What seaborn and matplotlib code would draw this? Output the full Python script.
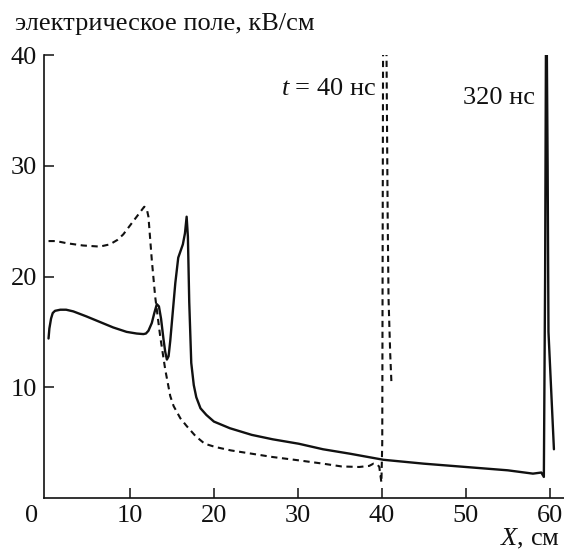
import numpy as np
import pandas as pd
import matplotlib
matplotlib.use('Agg')
import matplotlib.pyplot as plt
import matplotlib.transforms as mtransforms
import seaborn as sns

# t = 320 ns (solid)
x_320 = [0.3, 0.4, 0.6, 0.8, 1.07, 1.7, 2.4, 3.25, 4.8, 6.4, 8.0, 9.6, 10.8, 11.6, 11.9, 12.2, 12.6, 12.9,
         13.2, 13.45, 13.7, 14.0, 14.2, 14.4, 14.6, 14.8, 15.1, 15.4, 15.75, 16.3, 16.55, 16.75, 16.9,
         17.06, 17.3, 17.6, 17.9, 18.4, 19.1, 20.0, 21.9, 24.5, 27.0, 30.1, 33.0, 36.2, 40.2, 45.0,
         50.0, 55.0, 58.0, 59.0, 59.3, 59.45, 59.55, 59.65, 59.75, 59.85, 60.5]
y_320 = [14.4, 15.3, 16.2, 16.7, 16.9, 17.0, 17.0, 16.85, 16.4, 15.9, 15.4, 15.0, 14.85, 14.8, 14.85, 15.1,
         15.8, 16.7, 17.5, 17.3, 16.2, 14.3, 13.2, 12.5, 12.8, 14.2, 16.8, 19.4, 21.7, 22.9, 23.9, 25.4,
         23.6, 17.7, 12.2, 10.2, 9.1, 8.1, 7.5, 6.9, 6.3, 5.7, 5.3, 4.9, 4.4, 4.0, 3.45, 3.1,
         2.8, 2.5, 2.2, 2.3, 1.9, 20.0, 41.0, 41.0, 30.0, 15.0, 4.4]

# t = 40 ns (dashed)
x_40 = [0.3, 1.2, 2.5, 4.4, 6.4, 7.6, 8.5, 9.2, 10.4, 11.2, 11.7, 12.0, 12.2, 12.6, 13.0, 13.6, 14.2, 14.8,
        15.2, 16.0, 16.75, 17.8, 18.9, 20.2, 22.0, 24.5, 27.0, 30.1, 33.0, 35.2, 37.3, 38.5, 39.0,
        39.5, 39.7, 39.95, 40.05, 40.15, 40.55, 40.7, 40.8, 41.0, 41.15]
y_40 = [23.2, 23.2, 23.0, 22.8, 22.7, 22.9, 23.3, 23.8, 25.0, 25.8, 26.3, 26.1, 25.4, 21.5, 18.2, 14.6, 11.6,
        9.2, 8.3, 7.2, 6.5, 5.6, 4.9, 4.6, 4.3, 4.0, 3.7, 3.4, 3.1, 2.85, 2.8, 2.9, 3.1,
        3.0, 2.8, 1.4, 5.0, 41.0, 41.0, 25.0, 18.0, 13.0, 10.3]

x_ticks = [0, 10, 20, 30, 40, 50, 60]
y_ticks = [10, 20, 30, 40]

sns.set_style('ticks')
plt.rcParams['font.family'] = ['Liberation Serif', 'DejaVu Serif']
plt.rcParams['mathtext.fontset'] = 'custom'
plt.rcParams['mathtext.rm'] = 'Liberation Serif'
plt.rcParams['mathtext.it'] = 'Liberation Serif:italic'

fig = plt.figure(figsize=(5.64, 5.51), dpi=100)
ax = fig.add_axes([44 / 564, 1 - 498 / 551, 1 - 44 / 564, (498 - 55) / 551])

ink = '#111111'
sns.lineplot(x=x_320, y=y_320, ax=ax, sort=False, estimator=None, color=ink, lw=1.7)
sns.lineplot(x=x_40, y=y_40, ax=ax, sort=False, estimator=None, color=ink, lw=1.5)
ax.lines[-1].set_dashes((3.0, 2.2))

ax.set_xlim(-0.24, 61.7)
ax.set_ylim(0, 40)
ax.set_xticks(x_ticks)
ax.set_yticks(y_ticks)
ax.tick_params(direction='in', length=7, width=1.1, color=ink, labelsize=19, pad=5, labelcolor=ink)
for s in ['top', 'right']:
    ax.spines[s].set_visible(False)
for s in ['left', 'bottom']:
    ax.spines[s].set_linewidth(1.2)
    ax.spines[s].set_color(ink)
ax.set_xlabel('')
ax.set_ylabel('')

# origin: no tick mark, label moved left of the axis
ax.xaxis.get_major_ticks()[0].tick1line.set_visible(False)
lbl0 = ax.get_xticklabels()[0]
lbl0.set_transform(lbl0.get_transform() + mtransforms.ScaledTranslation(-14 / 100, 0, fig.dpi_scale_trans))

ax.text(39.4, 36.4, '$t$ = 40 нс', ha='right', va='baseline', fontsize=19, color=ink)
ax.text(58.2, 35.6, '320 нс', ha='right', va='baseline', fontsize=19, color=ink)

fig.text(15 / 564, 1 - 30 / 551, 'электрическое поле, кВ/см', ha='left', va='baseline',
         fontsize=19, color=ink)
fig.text(560 / 564, 1 - 545 / 551, '$X$, см', ha='right', va='baseline', fontsize=19, color=ink)

fig.savefig('out.png', dpi=100)
